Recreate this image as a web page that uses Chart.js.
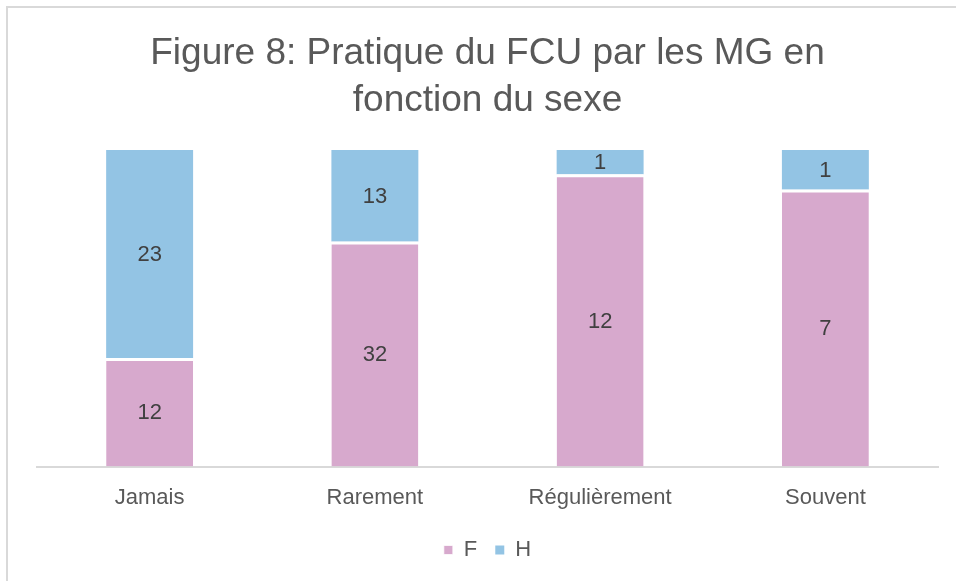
<!DOCTYPE html>
<html>
<head>
<meta charset="utf-8">
<script src="https://cdn.jsdelivr.net/npm/chart.js@4"></script>
<style>
  html, body { margin: 0; padding: 0; background: #fff; }
  #wrap { position: relative; width: 956px; height: 581px; }
  #frame { position: absolute; left: 6px; top: 6px; right: 0; bottom: 0;
           border-left: 2px solid #d9d9d9; border-top: 2px solid #d9d9d9; pointer-events: none; }
</style>
</head>
<body>
<div id="wrap">
  <canvas id="chart" width="956" height="581"></canvas>
  <div id="frame"></div>
</div>
<script>
// ─── Data ─────────────────────────────────────────────────────────────
const categories = ["Jamais", "Rarement", "Régulièrement", "Souvent"];
const femmes = [12, 32, 12, 7];   // F
const hommes = [23, 13, 1, 1];    // H

const PINK = "#d7a9cd";
const BLUE = "#93c4e4";
const TEXT = "#595959";
const FONT = "'Liberation Sans', Arial, sans-serif";

// 100% stacked: convert counts to shares, keep counts for the labels
const totals = categories.map((_, i) => femmes[i] + hommes[i]);
const pct = arr => arr.map((v, i) => v / totals[i] * 100);

// Draws the raw counts centred in each segment
const valueLabels = {
  id: "valueLabels",
  afterDatasetsDraw(chart) {
    const ctx = chart.ctx;
    ctx.save();
    ctx.font = `22px ${FONT}`;
    ctx.fillStyle = "#404040";
    ctx.textAlign = "center";
    ctx.textBaseline = "middle";
    chart.data.datasets.forEach((ds, di) => {
      chart.getDatasetMeta(di).data.forEach((bar, i) => {
        const top = Math.min(bar.y, bar.base);
        const bot = Math.max(bar.y, bar.base);
        ctx.fillText(String(ds.counts[i]), bar.x, (top + bot) / 2 + 1);
      });
    });
    ctx.restore();
  },
};

new Chart(document.getElementById("chart"), {
  type: "bar",
  data: {
    labels: categories,
    datasets: [
      {
        label: "F",
        data: pct(femmes),
        counts: femmes,
        backgroundColor: PINK,
        borderColor: "#ffffff",
        borderWidth: { top: 3, right: 0, bottom: 0, left: 0 },
        borderSkipped: false,
        barPercentage: 0.386,
        categoryPercentage: 1,
      },
      {
        label: "H",
        data: pct(hommes),
        counts: hommes,
        backgroundColor: BLUE,
        borderWidth: 0,
        barPercentage: 0.386,
        categoryPercentage: 1,
      },
    ],
  },
  options: {
    responsive: false,
    animation: false,
    layout: { padding: { left: 37, right: 18, top: 12, bottom: 10 } },
    plugins: {
      title: {
        display: true,
        text: ["Figure 8: Pratique du FCU par les MG en", "fonction du sexe"],
        color: TEXT,
        font: { family: FONT, size: 37, weight: "normal", lineHeight: 1.27 },
        padding: { top: 18, bottom: 26 },
      },
      legend: {
        position: "bottom",
        labels: {
          color: TEXT,
          font: { family: FONT, size: 22 },
          boxWidth: 9,
          boxHeight: 9,
          padding: 18,
        },
      },
      tooltip: { enabled: false },
    },
    scales: {
      x: {
        stacked: true,
        grid: { display: false },
        border: { color: "#d9d9d9", width: 2 },
        ticks: { color: TEXT, font: { family: FONT, size: 22 }, padding: 10 },
      },
      y: {
        stacked: true,
        display: false,
        min: 0,
        max: 100,
      },
    },
  },
  plugins: [valueLabels],
});
</script>
</body>
</html>
